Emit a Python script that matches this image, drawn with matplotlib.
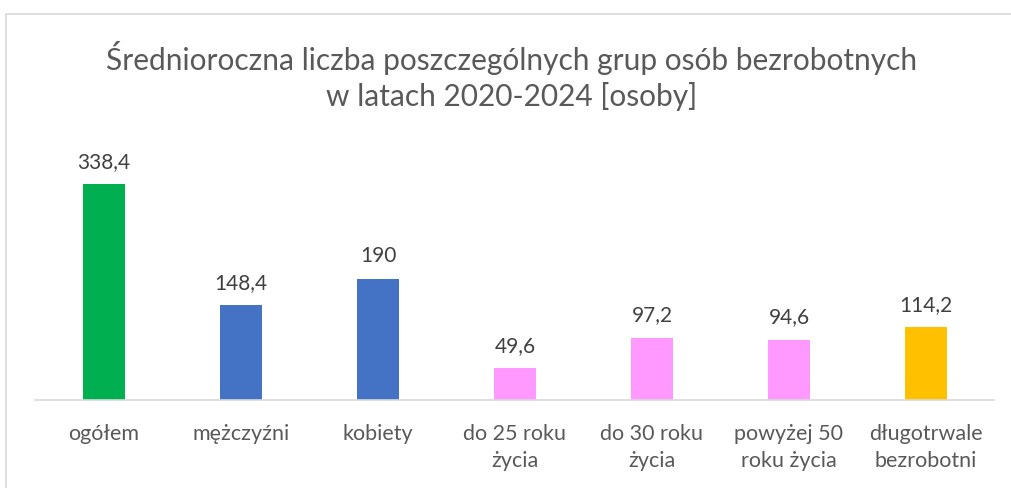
import matplotlib.pyplot as plt
from matplotlib.patches import Rectangle

categories = ['ogółem', 'mężczyźni', 'kobiety', 'do 25 roku\nżycia',
              'do 30 roku\nżycia', 'powyżej 50\nroku życia', 'długotrwale\nbezrobotni']
values = [338.4, 148.4, 190, 49.6, 97.2, 94.6, 114.2]
value_labels = ['338,4', '148,4', '190', '49,6', '97,2', '94,6', '114,2']
colors = ['#00B050', '#4472C4', '#4472C4', '#FF99FF', '#FF99FF', '#FF99FF', '#FFC000']

plt.rcParams['font.family'] = ['Lato', 'DejaVu Sans']
text_color = '#595959'

W, H = 1012, 488
fig = plt.figure(figsize=(W / 100, H / 100), dpi=100)

# outer chart border (only top and left visible in reference)
fig.patches.append(Rectangle((6 / W, -0.1), 1.2, (H - 14) / H + 0.1,
                             transform=fig.transFigure, fill=False,
                             edgecolor='#D9D9D9', linewidth=1.2))

left, right = 35.5, 994.5
bottom = H - 400
ymax = 420
top_px = bottom + ymax * 0.638
ax = fig.add_axes([left / W, bottom / H, (right - left) / W, (top_px - bottom) / H])

x = list(range(len(categories)))
ax.bar(x, values, width=0.31, color=colors)
ax.set_xlim(-0.5, len(categories) - 0.5)
ax.set_ylim(0, ymax)

for xi, v, lab in zip(x, values, value_labels):
    ax.annotate(lab, (xi, v), xytext=(0, 9), textcoords='offset points',
                ha='center', va='bottom', fontsize=15, color='#404040')

ax.set_xticks(x)
ax.set_xticklabels(categories, fontsize=15.5, color=text_color, linespacing=1.45, va='top')
ax.tick_params(axis='x', length=0, pad=17)
ax.set_yticks([])
for s in ['top', 'right', 'left']:
    ax.spines[s].set_visible(False)
ax.spines['bottom'].set_color('#D9D9D9')
ax.spines['bottom'].set_linewidth(1.2)

fig.text(512 / W, 1 - 76 / H,
         'Średnioroczna liczba poszczególnych grup osób bezrobotnych\nw latach 2020-2024 [osoby]',
         ha='center', va='center', fontsize=21.5, color=text_color, linespacing=1.32)

fig.savefig('out.png', dpi=100)
